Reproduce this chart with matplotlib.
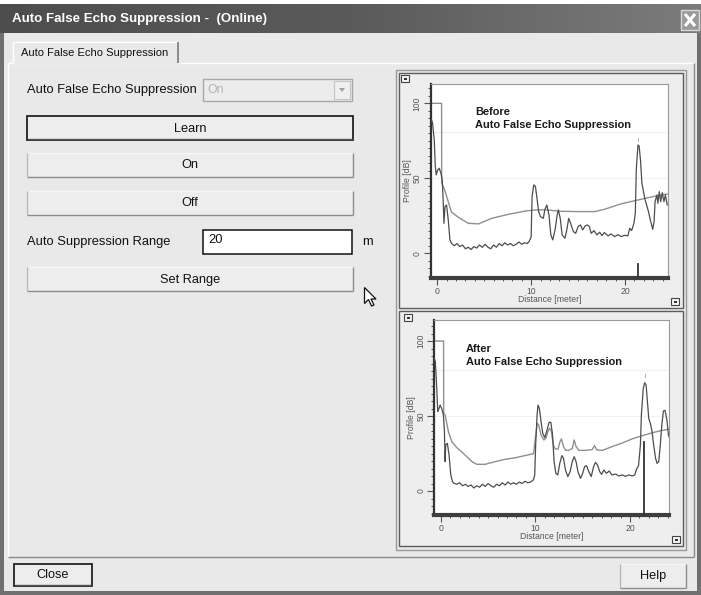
import numpy as np
import matplotlib
matplotlib.use("Agg")
import matplotlib.pyplot as plt
from matplotlib.patches import Rectangle, Polygon
from matplotlib.ticker import MultipleLocator
from matplotlib.colors import LinearSegmentedColormap

# ---------------- chart data ----------------
before_tvt_x = [-0.7, 0.46, 0.47, 0.8, 1.5, 2.2, 3.3, 4.4, 5.8, 7.6, 9.4, 10.5,
                11.5, 13.2, 15.0, 16.8, 17.8, 19.6, 21.0, 22.4, 23.9, 24.6]
before_tvt_y = [100, 100, 47, 42, 27.6, 24.2, 20, 19.6, 23.3, 26, 28.2, 28.9,
                29, 28, 27.8, 27.8, 29.3, 33, 35, 37, 39, 39.5]

before_echo_x = [-0.6, -0.5, -0.32, -0.21, -0.11, 0.04, 0.21, 0.39, 0.53, 0.64, 0.71, 0.82,
                 0.99, 1.17, 1.35, 1.52,
                 1.8, 2.1, 2.4, 2.7, 3.0, 3.3, 3.6, 3.9, 4.2, 4.5, 4.8, 5.1, 5.4, 5.7,
                 6.0, 6.3, 6.6, 6.9, 7.2, 7.5, 7.8, 8.1, 8.4, 8.7, 9.0, 9.3, 9.6, 9.8,
                 10.0, 10.1, 10.28, 10.46, 10.6, 10.8, 11.0, 11.3, 11.45, 11.67, 11.9,
                 12.1, 12.3, 12.55, 12.77, 12.9, 13.1, 13.3, 13.6, 13.8, 14.0, 14.2,
                 14.5, 14.75, 15.0, 15.25, 15.5, 15.75, 16.0, 16.2, 16.4, 16.7, 17.0,
                 17.3, 17.55, 17.8, 18.2, 18.5, 18.9, 19.25, 19.6, 19.95, 20.3, 20.5,
                 20.7, 20.95, 21.1, 21.2, 21.38, 21.5, 21.65, 21.8, 22.1, 22.3, 22.5,
                 22.7, 22.95, 23.1, 23.2, 23.4, 23.5, 23.65, 23.8, 23.97, 24.15, 24.3, 24.5]
before_echo_y = [88.9, 86.7, 75.6, 57.8, 52.2, 55.6, 56.7, 53.3, 48.9, 33.3, 20, 31.1,
                 32.2, 22.2, 8.9, 6.7,
                 5, 6.5, 4.5, 5.5, 3, 4, 2.5, 4.5, 3.5, 5.5, 4, 6, 4, 3,
                 5.5, 4, 6.5, 5, 7, 5.5, 6.5, 5, 6, 7.5, 6, 7, 6.5, 8,
                 11, 37.8, 45.6, 44.4, 37.8, 27.8, 24.4, 23.3, 28.9, 32.2, 25.6,
                 12.2, 8.9, 15.6, 25.6, 28.9, 23.3, 12.2, 10, 15.6, 23.3, 20,
                 14.4, 13.3, 17.8, 18.9, 15.6, 18.2, 18.9, 17.8, 13.3, 15.1, 12.2,
                 14, 11.8, 13.8, 11.6, 12.9, 11.1, 12.4, 11.1, 12, 11.6, 16.7,
                 15.1, 20, 26.7, 55.6, 72.2, 71.6, 62.2, 46.7, 36.7, 32.2, 27.8,
                 22.2, 16, 21.1, 34.4, 38.9, 33.3, 41.1, 34.4, 40.4, 34.4, 38.9, 32.2]
before_marker_x = [21.38, 21.38]
before_marker_y = [-16.5, -7.3]
before_peak_tick_y = [75.0, 77.0]

after_tvt_x = [-0.7, 0.3, 0.31, 0.46, 0.81, 1.17, 1.7, 2.2, 2.75, 3.3, 3.8, 4.7, 5.76,
               6.8, 7.9, 8.9, 9.8, 10.0, 10.2, 10.35, 10.6, 10.9, 11.1, 11.35, 11.5,
               11.7, 11.9, 12.1, 12.4, 12.6, 12.75, 12.97, 13.2, 13.5, 13.9, 14.1,
               14.3, 14.6, 15.3, 16.0, 16.25, 16.5, 17.1, 18.1, 19.2, 20.2, 21.3,
               22.4, 23.4, 24.2]
after_tvt_y = [100, 100, 52, 50.7, 39.6, 32.9, 28.9, 26.2, 22.9, 19.6, 17.8, 17.8, 19.6,
               21.1, 22.2, 23.6, 24.9, 35.1, 45.1, 44, 37.3, 34, 35.1, 40, 41.8,
               39.6, 30.7, 28, 28, 32.9, 34.7, 29.6, 27.1, 27.1, 28.4, 34,
               29.6, 27.1, 27.1, 27.6, 30.2, 27.3, 27.1, 29.6, 32, 34.7, 36.9,
               38.9, 40.4, 41.3]

after_echo_x = [-0.67, -0.57, -0.42, -0.32, -0.18, -0.07, 0.1, 0.28, 0.39, 0.46, 0.53,
                0.7, 0.88, 1.06, 1.24, 1.41,
                1.7, 2.0, 2.3, 2.6, 2.9, 3.2, 3.5, 3.8, 4.1, 4.4, 4.7, 5.0, 5.3, 5.6,
                5.9, 6.2, 6.5, 6.8, 7.1, 7.4, 7.7, 8.0, 8.3, 8.6, 8.9, 9.2, 9.5, 9.8,
                9.93, 10.03, 10.18, 10.28, 10.42, 10.6, 10.78, 10.99, 11.24, 11.45,
                11.63, 11.8, 11.98, 12.16, 12.37, 12.58, 12.8, 12.97, 13.18, 13.43,
                13.67, 13.9, 14.1, 14.3, 14.5, 14.77, 15.0, 15.2, 15.4, 15.65, 15.9,
                16.15, 16.36, 16.57, 16.8, 17.0, 17.24, 17.5, 17.8, 18.1, 18.5, 18.8,
                19.2, 19.5, 19.9, 20.25, 20.5, 20.7, 20.9, 21.1, 21.2, 21.4, 21.55,
                21.7, 21.84, 21.98, 22.15, 22.33, 22.5, 22.7, 22.86, 23.04, 23.2,
                23.36, 23.53, 23.7, 23.9, 24.06, 24.2]
after_echo_y = [88.4, 86.2, 68.4, 52.9, 55.1, 57.3, 55.1, 50.7, 39.6, 19.6, 30.7,
                31.8, 24, 10.7, 6.2, 5.1,
                4.5, 5.5, 3.5, 4.5, 3, 4, 2, 3.5, 2.5, 4.5, 3, 5, 3.5, 2.5,
                4.5, 3.5, 5.5, 4, 6, 4.5, 5.5, 4.5, 6, 5, 6.5, 5.5, 6, 7.5,
                10.7, 30.7, 50.7, 57.3, 55.1, 46.2, 38.4, 35.6, 40.7, 45.8,
                45.8, 38.4, 19.6, 11.8, 10.7, 18.4, 23.6, 21.8, 14, 9.6,
                12.9, 19.6, 22.9, 19.6, 12.9, 8.4, 11.8, 16.2, 16.9, 12.9, 9.6,
                16.2, 19.1, 17.3, 12.9, 11.1, 14, 11.8, 13.3, 10.7, 11.3, 10,
                10.7, 9.8, 10.7, 10, 10.7, 14.7, 16.9, 30.7, 50.7, 68.4, 72.2,
                70.7, 59.6, 48.4, 45.1, 39.6, 30.7, 21.8, 18.4, 19.6, 30.7,
                44, 53.3, 53.8, 47.3, 37.3, 35.1]
after_marker_x = [21.48, 21.48]
after_marker_y = [-16, 33]
after_peak_tick_y = [76.0, 78.0]

x_major_ticks = [0, 10, 20]
y_major_ticks = [0, 50, 100]
x_label = "Distance [meter]"
y_label = "Profile [dB]"
before_caption = "Before\nAuto False Echo Suppression"
after_caption = "After\nAuto False Echo Suppression"

# ---------------- dialog texts ----------------
window_title = "Auto False Echo Suppression -  (Online)"
tab_label = "Auto False Echo Suppression"
combo_label = "Auto False Echo Suppression"
combo_value = "On"
button_labels = ["Learn", "On", "Off"]
range_label = "Auto Suppression Range"
range_value = "20"
range_unit = "m"
set_range_label = "Set Range"
close_label = "Close"
help_label = "Help"

FONT = "Liberation Sans"
W, H = 701, 595
BG = "#e9e9e9"

fig = plt.figure(figsize=(W / 100, H / 100), dpi=100)
fig.patch.set_facecolor(BG)

ax = fig.add_axes([0, 0, 1, 1])
ax.set_xlim(0, W)
ax.set_ylim(H, 0)
ax.axis("off")


def line(xs, ys, c, lw=1.0, z=2):
    ax.plot(xs, ys, color=c, lw=lw, solid_capstyle="butt", zorder=z)


def rect(x0, y0, x1, y1, fc, ec="none", lw=1.0, z=1):
    ax.add_patch(Rectangle((x0, y0), x1 - x0, y1 - y0, fc=fc, ec=ec, lw=lw, zorder=z))


def bevel(x0, y0, x1, y1, light="white", dark="#8a8a8a", z=2, lw=1.0):
    line([x0, x1], [y0, y0], light, lw, z)
    line([x0, x0], [y0, y1], light, lw, z)
    line([x0, x1], [y1, y1], dark, lw, z)
    line([x1, x1], [y0, y1], dark, lw, z)


def button(x0, y0, x1, y1, label, focus=False):
    rect(x0, y0, x1, y1, "#ededed")
    if focus:
        rect(x0, y0, x1, y1, "none", ec="#222222", lw=1.3, z=3)
        line([x0 + 1, x1 - 1], [y1 - 1, y1 - 1], "#555555", 1.0, 3)
    else:
        bevel(x0, y0, x1, y1, light="#f7f7f7", dark="#8c8c8c")
        line([x0, x0], [y0, y1], "#b8b8b8", 1.0, 2)
    ax.text((x0 + x1) / 2, (y0 + y1) / 2 + 0.5, label, ha="center", va="center",
            fontsize=9.2, family=FONT, color="#111111", zorder=4)


# ---- window chrome ----
rect(0, 0, W, 5, "white")
grad = np.linspace(0, 1, 256).reshape(1, -1)
cm_title = LinearSegmentedColormap.from_list("t", ["#4d4d4d", "#5a5a5a", "#7c7c7c"])
ax.imshow(grad, cmap=cm_title, extent=[0, W, 33, 4], aspect="auto", zorder=1)
ax.text(12, 19, window_title, ha="left", va="center", fontsize=9.6, family=FONT,
        weight="bold", color="white", zorder=3)
# close box
rect(681, 10, 699, 30, "#9a9a9a", ec="#d8d8d8", lw=1.0, z=3)
line([685, 695], [14, 26], "white", 2.2, 4)
line([685, 695], [26, 14], "white", 2.2, 4)
# outer borders
rect(0, 33, 4, H, "#6f6f6f")
rect(W - 4, 33, W, H, "#6f6f6f")
rect(0, H - 4, W, H, "#6f6f6f")

# ---- tab + panel ----
line([8, 694], [63, 63], "white", 1.0)
line([8, 8], [63, 557], "white", 1.0)
line([8, 694], [557, 557], "#8a8a8a", 1.0)
line([694, 694], [63, 557], "#8a8a8a", 1.0)
rect(13, 42, 178, 63.5, BG, z=2)
line([13, 13], [42, 63], "white", 1.0, 3)
line([13, 178], [42, 42], "white", 1.0, 3)
line([178, 178], [42, 63], "#7a7a7a", 1.2, 3)
ax.text(21, 53, tab_label, ha="left", va="center", fontsize=8.0, family=FONT,
        color="#111111", zorder=4)

# ---- left controls ----
ax.text(27, 90, combo_label, ha="left", va="center", fontsize=9.3, family=FONT,
        color="#111111")
rect(203, 79, 352, 101, "#ececec", ec="#a8a8a8", lw=1.0, z=2)
ax.text(207, 90, combo_value, ha="left", va="center", fontsize=8.8, family=FONT,
        color="#b4b4b4", zorder=3)
rect(334, 81, 350, 99, "#efefef", ec="#c4c4c4", lw=0.8, z=3)
ax.add_patch(Polygon([[339, 88], [345, 88], [342, 92]], closed=True, fc="#a0a0a0",
                     ec="none", zorder=4))

button(27, 116, 353, 140, button_labels[0], focus=True)
button(27, 153, 353, 177, button_labels[1])
button(27, 191, 353, 215, button_labels[2])

ax.text(27, 242, range_label, ha="left", va="center", fontsize=9.3, family=FONT,
        color="#111111")
rect(203, 230, 352, 254, "white", ec="#111111", lw=1.1, z=2)
ax.text(208, 240, range_value, ha="left", va="center", fontsize=9.3, family=FONT,
        color="#111111", zorder=3)
ax.text(362, 242, range_unit, ha="left", va="center", fontsize=9.3, family=FONT,
        color="#111111")
button(27, 267, 353, 291, set_range_label)

# mouse cursor
tip = (364.5, 287.5)
cur = [(0, 0), (0, 16), (4, 12), (7, 18.5), (9.5, 17.5), (6.5, 11.5), (11.5, 11.5)]
ax.add_patch(Polygon([[tip[0] + a, tip[1] + b] for a, b in cur], closed=True,
                     fc="white", ec="#111111", lw=0.9, zorder=5))

# ---- bottom buttons ----
button(14, 564, 92, 586, close_label, focus=True)
button(620, 564, 686, 588, help_label)

# ---- chart panels ----
rect(396, 70, 686, 550, "none", ec="#9a9a9a", lw=1.0, z=2)
for (t, b) in [(73, 308), (311, 546)]:
    rect(399, t, 683, b, "#eeeeee", ec="#5c5c5c", lw=1.0, z=2)


def small_icon(x0, y0):
    rect(x0, y0, x0 + 8, y0 + 7, "#f4f4f4", ec="#444444", lw=0.8, z=3)
    rect(x0 + 2.5, y0 + 2.5, x0 + 5.5, y0 + 4.5, "#333333", z=4)


small_icon(401, 75)
small_icon(671, 298)
small_icon(404, 314)
small_icon(672, 536)


def make_chart(l, t, r, b, xlim, ylim, tvt_x, tvt_y, echo_x, echo_y, mk_x, mk_y,
               peak_x, peak_y, caption, cap_xy):
    a = fig.add_axes([l / W, 1 - b / H, (r - l) / W, (b - t) / H])
    a.set_facecolor("white")
    for yy in (50, 81):
        a.axhline(yy, color="#f1f1f1", lw=0.8, zorder=0)
    a.plot(tvt_x, tvt_y, color="#8f8f8f", lw=1.0, zorder=2)
    a.plot(echo_x, echo_y, color="#4d4d4d", lw=0.9, zorder=3)
    a.plot(mk_x, mk_y, color="#333333", lw=1.3, zorder=4)
    a.plot([peak_x, peak_x], peak_y, color="#b5b5b5", lw=0.8, zorder=2)
    a.set_xlim(*xlim)
    a.set_ylim(*ylim)
    a.set_xticks(x_major_ticks)
    a.set_yticks(y_major_ticks)
    a.xaxis.set_minor_locator(MultipleLocator(1))
    a.yaxis.set_minor_locator(MultipleLocator(5))
    a.tick_params(axis="both", which="major", direction="out", length=5, width=0.8,
                  colors="#555555", labelsize=6.2, pad=1.5)
    a.tick_params(axis="both", which="minor", direction="out", length=2.5, width=0.7,
                  colors="#555555")
    for lab in a.get_yticklabels():
        lab.set_rotation(90)
        lab.set_va("center")
        lab.set_family(FONT)
    for lab in a.get_xticklabels():
        lab.set_family(FONT)
    a.set_xlabel(x_label, fontsize=6.2, family=FONT, color="#555555", labelpad=-0.5)
    a.set_ylabel(y_label, fontsize=6.2, family=FONT, color="#555555", labelpad=0.5)
    a.spines["top"].set_color("#9a9a9a")
    a.spines["right"].set_color("#9a9a9a")
    a.spines["top"].set_linewidth(0.8)
    a.spines["right"].set_linewidth(0.8)
    a.spines["left"].set_color("#333333")
    a.spines["left"].set_linewidth(1.6)
    a.spines["bottom"].set_color("#3e3e3e")
    a.spines["bottom"].set_linewidth(3.0)
    a.text(cap_xy[0], cap_xy[1], caption, transform=a.transAxes, ha="left", va="top",
           fontsize=7.9, family=FONT, weight="bold", color="#1a1a1a", linespacing=1.4)
    return a


make_chart(430.7, 84, 668, 278, (-0.70, 24.58), (-16.5, 112.9),
           before_tvt_x, before_tvt_y, before_echo_x, before_echo_y,
           before_marker_x, before_marker_y, 21.38, before_peak_tick_y,
           before_caption, ((475 - 430.7) / (668 - 430.7), 1 - (107 - 84) / (278 - 84)))
make_chart(434.3, 320, 669, 515, (-0.68, 24.12), (-16.0, 114.0),
           after_tvt_x, after_tvt_y, after_echo_x, after_echo_y,
           after_marker_x, after_marker_y, 21.6, after_peak_tick_y,
           after_caption, ((466 - 434.3) / (669 - 434.3), 1 - (344 - 320) / (515 - 320)))

fig.savefig("out.png", dpi=100, facecolor=fig.get_facecolor())
